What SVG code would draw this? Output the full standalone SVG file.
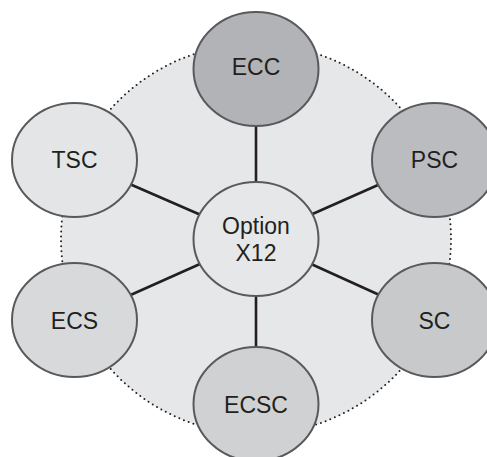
<svg xmlns="http://www.w3.org/2000/svg" width="487" height="457" viewBox="0 0 487 457">
<style>
.node ellipse{stroke:#58595b;stroke-width:2}
.node text{font-family:"Liberation Sans",Arial,sans-serif;font-size:23px;fill:#231f20;text-anchor:middle;dominant-baseline:central}
.conn line{stroke:#231f20;stroke-width:2.6}
</style>
<rect width="487" height="457" fill="#ffffff"/>
<circle id="background" cx="256" cy="239" r="195" fill="#e6e7e8" stroke="#231f20" stroke-width="2" stroke-dasharray="0 5" stroke-linecap="round"/>
<g id="connectors" class="conn">
<line x1="256" y1="239" x2="256" y2="69"/>
<line x1="256" y1="239" x2="74.5" y2="160"/>
<line x1="256" y1="239" x2="434.5" y2="160"/>
<line x1="256" y1="239" x2="74.5" y2="320"/>
<line x1="256" y1="239" x2="434.5" y2="320"/>
<line x1="256" y1="239" x2="256" y2="404"/>
</g>
<g id="ECC" class="node"><ellipse cx="256" cy="69" rx="62.5" ry="57" fill="#b2b3b6"/><text x="256" y="67">ECC</text></g>
<g id="TSC" class="node"><ellipse cx="74.5" cy="160" rx="62.5" ry="57" fill="#e4e5e6"/><text x="74.5" y="160">TSC</text></g>
<g id="PSC" class="node"><ellipse cx="434.5" cy="160" rx="62.5" ry="57" fill="#bbbcbf"/><text x="434.5" y="160">PSC</text></g>
<g id="Option" class="node"><ellipse cx="256" cy="239" rx="62.5" ry="57" fill="#e6e7e8"/><text x="256" y="226">Option</text><text x="256" y="253">X12</text></g>
<g id="ECS" class="node"><ellipse cx="74.5" cy="320" rx="62.5" ry="57" fill="#d8d9db"/><text x="74.5" y="321">ECS</text></g>
<g id="SC" class="node"><ellipse cx="434.5" cy="320" rx="62.5" ry="57" fill="#c8c9cb"/><text x="434.5" y="321">SC</text></g>
<g id="ECSC" class="node"><ellipse cx="256" cy="404" rx="62.5" ry="57" fill="#d0d1d3"/><text x="256" y="405">ECSC</text></g>
</svg>
